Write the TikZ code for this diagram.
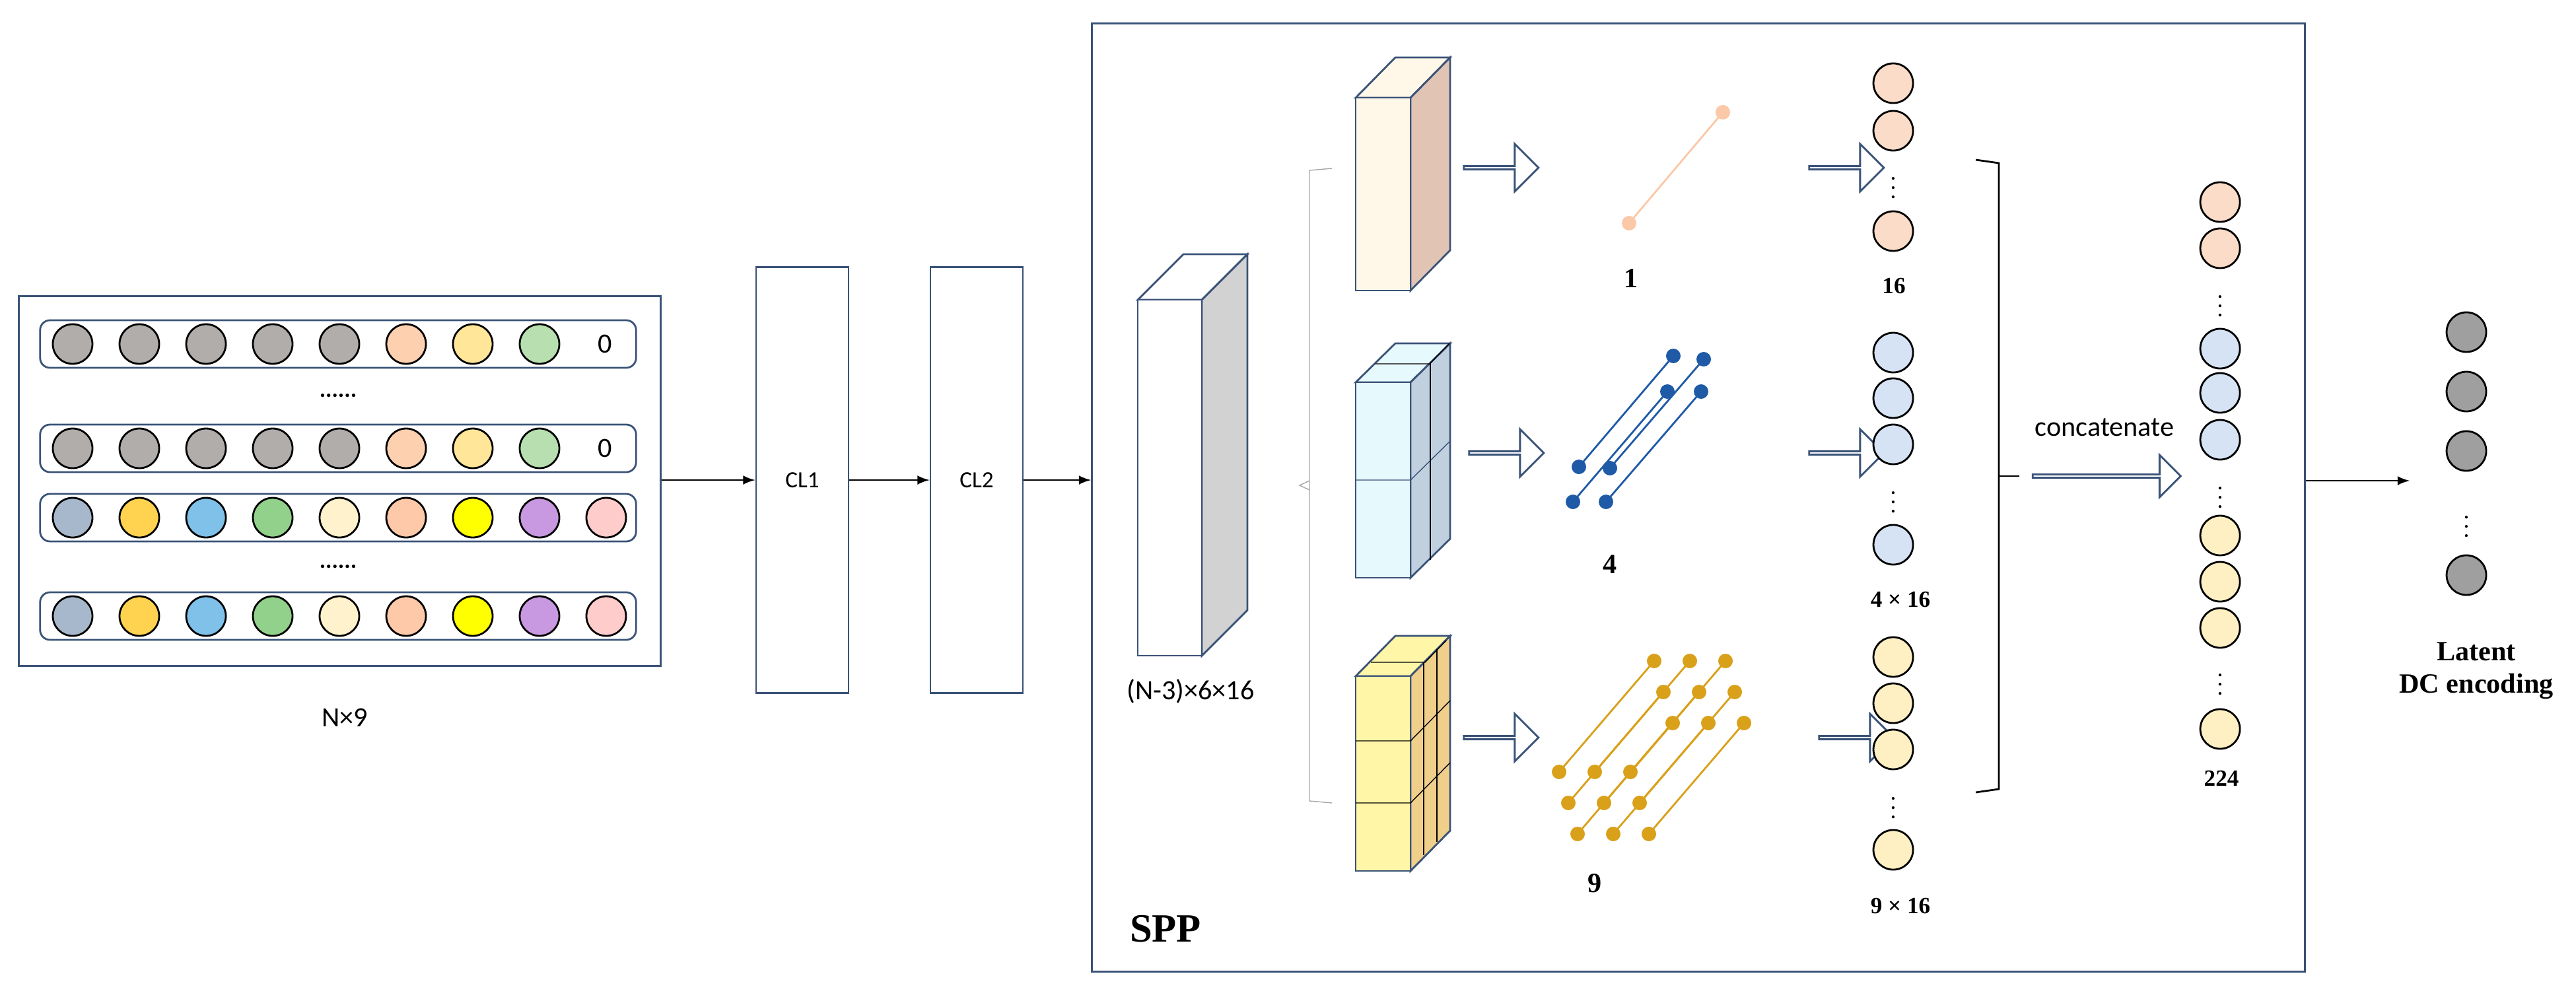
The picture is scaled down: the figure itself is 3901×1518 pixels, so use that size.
\documentclass[tikz,border=0pt]{standalone}
\usepackage{fontspec}
\setmainfont{Carlito}
\newfontfamily\numfont{Liberation Serif}
\usepackage{tikz}
\usetikzlibrary{positioning,shapes.arrows}

\definecolor{edge}{HTML}{3A5378}
\definecolor{cgray}{HTML}{B0ADAB}
\definecolor{cpeach}{HTML}{FDD0B0}
\definecolor{cyel}{HTML}{FFE699}
\definecolor{cgreen}{HTML}{B8DFB0}
\definecolor{corange}{HTML}{FBDCC8}
\definecolor{cblue}{HTML}{D6E3F5}
\definecolor{ccream}{HTML}{FFF0C4}
\definecolor{cpool}{HTML}{FBC8A8}
\definecolor{cfour}{HTML}{1F5AA6}
\definecolor{cnine}{HTML}{D9A01A}
\definecolor{frontA}{HTML}{FFF8E8}
\definecolor{sideA}{HTML}{E2C4B5}
\definecolor{frontB}{HTML}{E6F9FC}
\definecolor{sideB}{HTML}{C0D0DF}
\definecolor{frontC}{HTML}{FFF6A8}
\definecolor{sideC}{HTML}{F0CF8A}

\newcommand{\cuboid}[8]{% x1,y1,x2,y2,dx,dy,front,side
  \filldraw[edge,thick,fill=#7] (#1,#2) -- ++(#5,#6) -- ++(#3-#1,0) -- (#3,#2) -- cycle;
  \filldraw[edge,thick,fill=#8] (#3,#2) -- ++(#5,#6) -- ++(0,#4-#2) -- (#3,#4) -- cycle;
  \filldraw[edge,thick,fill=#7] (#1,#2) rectangle (#3,#4);
}

\begin{document}
\begin{tikzpicture}[x=0.01cm,y=-0.01cm,
  ball/.style={circle,draw,thick,inner sep=0pt,minimum size=6mm},
  row/.style={rounded corners=1.5mm,draw=edge,thick,minimum width=90.2mm,minimum height=7.2mm,inner sep=0pt},
  layer/.style={draw=edge,thick,minimum width=14mm,minimum height=64.5mm,inner sep=0pt},
  hollow/.style={single arrow,draw=edge,thick,fill=white,inner sep=0pt,minimum width=7.2mm,single arrow head extend=1.8mm,minimum height=11.3mm},
  flow/.style={->,>=latex,thick},
  num/.style={font=\numfont\bfseries\large},
  pt/.style={circle,fill,inner sep=0pt,minimum size=2.2mm}
  ]
\useasboundingbox (0,0) rectangle (3901,1518);

% input matrix
\node[draw=edge,thick,minimum width=97.1mm,minimum height=55.9mm] (inp) at (514.5,728.5) {};
\node[row] (r1) at (512,521) {};
\node[row] (r2) at (512,679) {};
\node[row] (r3) at (512,784) {};
\node[row] (r4) at (512,933) {};
\node[font=\bfseries] (d1) at (512,599) {......};
\node[font=\bfseries] (d2) at (512,858) {......};
\foreach \r/\y in {1/521,2/679}{
  \foreach \i/\c in {0/cgray,1/cgray,2/cgray,3/cgray,4/cgray,5/cpeach,6/cyel,7/cgreen}
    \node[ball,fill=\c] (b\r\i) at (110+101*\i,\y) {};
  \node[font=\large] (z\r) at (916,\y) {0};
}
\foreach \r/\y in {3/784,4/933}
  \foreach \i/\c in {0/A8B8CC,1/FFD34F,2/7FC1E8,3/92D18B,4/FFF2CC,5/FDC9A8,6/FFFF00,7/C898E0,8/FFCCCC}{
    \definecolor{tmp}{HTML}{\c}
    \node[ball,fill=tmp] (b\r\i) at (110+101*\i,\y) {};
  }
\node[font=\large] (nlab) at (522,1087) {N×9};

% conv layers
\node[layer] (cl1) at (1215,727) {CL1};
\node[layer] (cl2) at (1479,727) {CL2};

% SPP block
\node[draw=edge,thick,minimum width=183.6mm,minimum height=143.5mm] (spp) at (2572,753.5) {};
\node[num,font=\numfont\bfseries\LARGE] (spplab) at (1765,1407) {SPP};

\draw[flow] (inp.east |- cl1) -- (cl1);
\draw[flow] (cl1) -- (cl2);
\draw[flow] (cl2) -- (spp.west |- cl2);

\cuboid{1723}{454}{1820}{993}{69}{-69}{white}{gray!35}
\node[font=\large] (fmap) at (1803,1047) {(N-3)×6×16};

% split bracket
\draw[gray!70] (2017,255) -- (1983,258) -- (1983,1213) -- (2017,1216);
\draw[gray!70] (1983,728) -- (1968,735) -- (1983,742);

\cuboid{2053}{148}{2136}{440}{60}{-61}{frontA}{sideA}
\cuboid{2053}{579}{2136}{875}{60}{-59}{frontB}{sideB}
\draw[edge] (2053,727) -- (2136,727) -- ++(60,-59);
\draw (2083,551) -- (2165,551) -- (2195,520);
\draw (2166,550) -- (2166,848);
\cuboid{2053}{1024}{2136}{1319}{60}{-61}{frontC}{sideC}
\foreach \y in {1122,1216}{
  \draw (2053,\y) -- (2136,\y) -- ++(60,-61);
}
\draw (2076,1003) -- (2158,1003) -- (2190,970);
\draw (2156,1004) -- (2156,1295);
\draw (2176,983) -- (2176,1275);

\node[hollow] (h1) at (2272,254) {};
\node[hollow] (h2) at (2280,686) {};
\node[hollow] (h3) at (2272,1117) {};

% pooled bins
\draw[cpool,thick] (2467,338) node[pt] (p1a) {} -- (2609,170) node[pt] (p1b) {};
\node[num] (n1) at (2470,422) {1};
\foreach \a/\b/\c/\d [count=\k] in {2391/707/2534/539,2438/709/2580/544,2382/760/2525/593,2432/760/2576/593}
  \draw[cfour,thick] (\a,\b) node[pt] (q\k a) {} -- (\c,\d) node[pt] (q\k b) {};
\node[num] (n4) at (2438,855) {4};
\foreach \i in {0,1,2}
  \foreach \j in {0,1,2}
    \draw[cnine,thick] (2361+54*\j+14*\i,1169+47*\i) node[pt] (s\i\j a) {}
      -- ++(144,-168) node[pt] (s\i\j b) {};
\node[num] (n9) at (2415,1338) {9};

\node[hollow] (h4) at (2795,254) {};
\node[hollow] (h5) at (2795,686) {};
\node[hollow] (h6) at (2810,1117) {};

% pooled vectors
\foreach \y [count=\k] in {126,198,350}
  \node[ball,fill=corange] (o\k) at (2867,\y) {};
\node (od) at (2867,274) {$\vdots$};
\node[num,font=\numfont\bfseries] (l16) at (2868,433) {16};
\foreach \y [count=\k] in {534,603,673,825}
  \node[ball,fill=cblue] (u\k) at (2867,\y) {};
\node (ud) at (2867,750) {$\vdots$};
\node[num,font=\numfont\bfseries] (l64) at (2878,908) {4 × 16};
\foreach \y [count=\k] in {995,1065,1135,1287}
  \node[ball,fill=ccream] (y\k) at (2867,\y) {};
\node (yd) at (2867,1213) {$\vdots$};
\node[num,font=\numfont\bfseries] (l144) at (2878,1372) {9 × 16};

% concatenation
\draw[thick] (2992,242) -- (3027,247) -- (3027,1195) -- (2992,1200);
\draw[thick] (3027,721) -- (3058,721);
\node[hollow,minimum width=6.4mm,single arrow head extend=1.6mm,minimum height=22.4mm] (cat) at (3189,721) {};
\node[font=\large] (catlab) at (3187,647) {concatenate};

\foreach \y/\c [count=\k] in {306/corange,376/corange,528/cblue,595/cblue,666/cblue,811/ccream,881/ccream,951/ccream,1104/ccream}
  \node[ball,fill=\c] (v\k) at (3362,\y) {};
\foreach \y [count=\k] in {453,743,1026}
  \node (vd\k) at (3362,\y) {$\vdots$};
\node[num,font=\numfont\bfseries] (l224) at (3364,1179) {224};

% latent code
\foreach \y [count=\k] in {503,593,683,871}
  \node[ball,fill=gray!75] (g\k) at (3735,\y) {};
\node (gd) at (3735,787) {$\vdots$};
\node[num,align=center] (lat) at (3750,1016) {Latent\\DC encoding};
\coordinate (tip) at (3649,728);
\draw[flow] (spp.east |- tip) -- (tip);
\end{tikzpicture}
\end{document}
